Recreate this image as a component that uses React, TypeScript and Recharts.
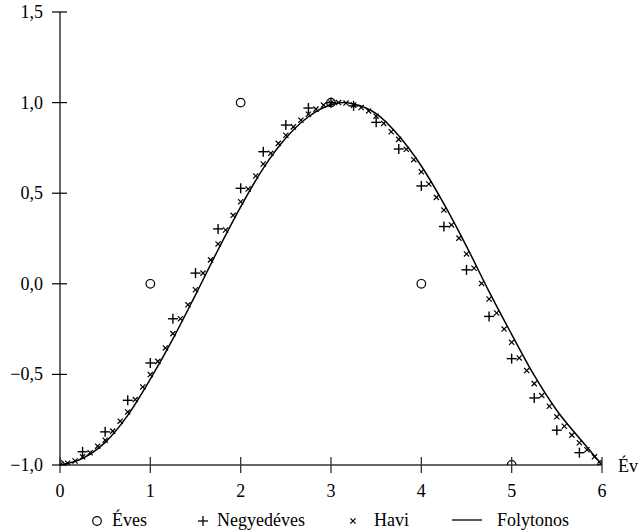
import React from "react";
import { ComposedChart, Line, Scatter, XAxis, YAxis } from "recharts";

const xTicks = [0, 1, 2, 3, 4, 5, 6];
const yTicks = [-1, -0.5, 0, 0.5, 1, 1.5];

const yearTimes = [0, 1, 2, 3, 4, 5, 6];
const evesValues = [-1, 0, 1, 1, 0, -1, -1];

const quarterValues = [
  -1.0, -0.927, -0.817, -0.643, -0.437, -0.193, 0.059, 0.303, 0.527, 0.729, 0.876, 0.97, 1.0,
  0.982, 0.891, 0.744, 0.54, 0.316, 0.077, -0.18, -0.413, -0.63, -0.808, -0.932, -1.0,
];

const monthValues = [
  -1.0, -0.99, -0.978, -0.955, -0.932, -0.896, -0.863, -0.813, -0.758, -0.707, -0.639, -0.569,
  -0.501, -0.428, -0.354, -0.275, -0.193, -0.116, -0.033, 0.059, 0.132, 0.22, 0.297, 0.378,
  0.453, 0.523, 0.595, 0.661, 0.72, 0.775, 0.82, 0.866, 0.903, 0.936, 0.964, 0.986,
  0.998, 1.0, 0.998, 0.986, 0.973, 0.954, 0.925, 0.885, 0.839, 0.797, 0.742, 0.685,
  0.618, 0.551, 0.477, 0.407, 0.325, 0.252, 0.165, 0.086, 0.002, -0.084, -0.161, -0.25,
  -0.323, -0.409, -0.479, -0.551, -0.617, -0.676, -0.734, -0.786, -0.835, -0.877, -0.916, -0.955,
  -1.0,
];

const contTimes = [
  0, 0.25, 0.5, 0.75, 1, 1.25, 1.5, 1.75, 2, 2.25, 2.5, 2.75, 3, 3.125, 3.25, 3.5, 3.75, 4, 4.25,
  4.5, 4.75, 5, 5.25, 5.5, 5.75, 5.875, 6,
];
const contValues = [
  -1.0, -0.963, -0.875, -0.726, -0.526, -0.304, -0.061, 0.188, 0.425, 0.637, 0.804, 0.922, 0.988,
  1.0, 0.992, 0.939, 0.817, 0.65, 0.441, 0.207, -0.043, -0.279, -0.506, -0.699, -0.852, -0.925,
  -1.0,
];

const legendNames = ["Éves", "Negyedéves", "Havi", "Folytonos"];
const xAxisName = "Év";

const evesData = yearTimes.map((t, i) => ({ t, y: evesValues[i] }));
const quarterData = quarterValues.map((y, i) => ({ t: i / 4, y }));
const monthData = monthValues.map((y, i) => ({ t: i / 12, y }));
const contData = contTimes.map((t, i) => ({ t, y: contValues[i] }));

const FONT = "'Liberation Serif', 'Times New Roman', Times, serif";
const FS = 18;

const fmt = (v: number) => v.toFixed(1).replace(".", ",").replace("-", "\u2212");

const XTick = (props: any) => {
  const { x, y, payload } = props;
  return (
    <g>
      <line x1={x} x2={x} y1={y - 16} y2={y} stroke="#333" strokeWidth={1.3} />
      <text x={x} y={y + 24} textAnchor="middle" style={{ fontFamily: FONT, fontSize: FS }} fill="#000">
        {payload.value}
      </text>
    </g>
  );
};

const YTick = (props: any) => {
  const { x, y, payload } = props;
  return (
    <g>
      <line x1={x} x2={x + 15} y1={y} y2={y} stroke="#000" strokeWidth={1.2} />
      <text x={x - 9} y={y + 6} textAnchor="end" style={{ fontFamily: FONT, fontSize: FS }} fill="#000">
        {fmt(payload.value)}
      </text>
    </g>
  );
};

const CircleShape = (p: any) => (
  <circle cx={p.cx} cy={p.cy} r={4.3} fill="none" stroke="#000" strokeWidth={1.2} />
);
const PlusShape = (p: any) => (
  <g stroke="#000" strokeWidth={1.4}>
    <line x1={p.cx - 5} x2={p.cx + 5} y1={p.cy} y2={p.cy} />
    <line x1={p.cx} x2={p.cx} y1={p.cy - 5} y2={p.cy + 5} />
  </g>
);
const CrossShape = (p: any) => (
  <g stroke="#000" strokeWidth={1.2}>
    <line x1={p.cx - 2.6} x2={p.cx + 2.6} y1={p.cy - 2.6} y2={p.cy + 2.6} />
    <line x1={p.cx - 2.6} x2={p.cx + 2.6} y1={p.cy + 2.6} y2={p.cy - 2.6} />
  </g>
);

export default function App() {
  return (
    <div style={{ position: "absolute", left: 0, top: 0, width: 639, height: 532, background: "#fff" }}>
      <ComposedChart
        width={639}
        height={532}
        margin={{ top: 12, right: 37, bottom: 37, left: 0 }}
      >
        <XAxis
          type="number"
          dataKey="t"
          domain={[0, 6]}
          ticks={xTicks}
          interval={0}
          height={30}
          tickSize={8}
          tickMargin={0}
          tickLine={false}
          axisLine={{ stroke: "#666", strokeWidth: 2 }}
          tick={<XTick />}
          allowDataOverflow
        />
        <YAxis
          type="number"
          dataKey="y"
          domain={[-1, 1.5]}
          ticks={yTicks}
          interval={0}
          width={60}
          tickSize={8}
          tickMargin={0}
          tickLine={false}
          axisLine={{ stroke: "#000", strokeWidth: 1.2 }}
          tick={<YTick />}
          allowDataOverflow
        />
        <Line
          data={contData}
          dataKey="y"
          type="monotone"
          stroke="#000"
          strokeWidth={1.5}
          dot={false}
          activeDot={false}
          isAnimationActive={false}
        />
        <Scatter data={monthData} dataKey="y" shape={<CrossShape />} isAnimationActive={false} />
        <Scatter data={quarterData} dataKey="y" shape={<PlusShape />} isAnimationActive={false} />
        <Scatter data={evesData} dataKey="y" shape={<CircleShape />} isAnimationActive={false} />
      </ComposedChart>
      <svg
        width={639}
        height={532}
        style={{ position: "absolute", left: 0, top: 0, pointerEvents: "none" }}
      >
        <text x={618} y={472} style={{ fontFamily: FONT, fontSize: FS }} fill="#000">
          {xAxisName}
        </text>
        <g style={{ fontFamily: FONT, fontSize: FS }} fill="#000">
          <circle cx={97} cy={521} r={4.3} fill="none" stroke="#000" strokeWidth={1.2} />
          <text x={112} y={526}>{legendNames[0]}</text>
          <g stroke="#000" strokeWidth={1.3}>
            <line x1={198} x2={208} y1={521} y2={521} />
            <line x1={203} x2={203} y1={516} y2={526} />
          </g>
          <text x={217} y={526}>{legendNames[1]}</text>
          <g stroke="#000" strokeWidth={1.2}>
            <line x1={350.4} x2={355.6} y1={518.4} y2={523.6} />
            <line x1={350.4} x2={355.6} y1={523.6} y2={518.4} />
          </g>
          <text x={374} y={526}>{legendNames[2]}</text>
          <line x1={452} x2={482} y1={520} y2={520} stroke="#000" strokeWidth={1.3} />
          <text x={497} y={526}>{legendNames[3]}</text>
        </g>
      </svg>
    </div>
  );
}
